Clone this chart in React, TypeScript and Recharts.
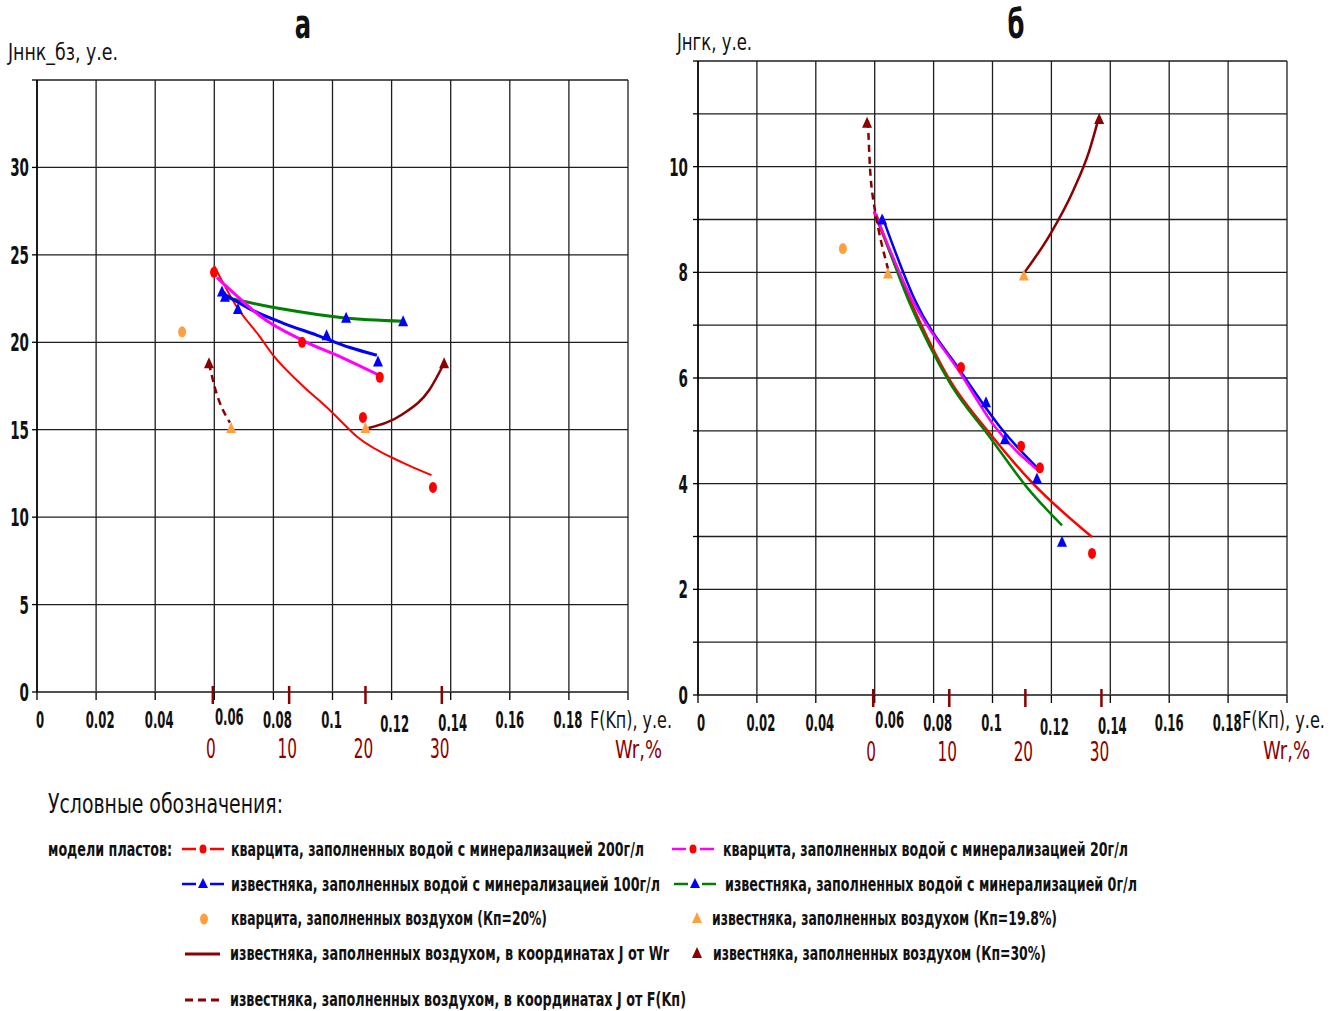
import React from "react";
import { ComposedChart, Line, Scatter, XAxis, YAxis, CartesianGrid } from "recharts";

const FONT = "'Liberation Sans Narrow','DejaVu Sans Condensed','Arial Narrow',sans-serif";
const DARK_RED = "#8b0000";
const ORANGE = "#ffa040";

type Pt = { x: number; y: number };
const pts = (a: number[][]): Pt[] => a.map(([x, y]) => ({ x, y }));

// axes
const fTicks = [0, 0.02, 0.04, 0.06, 0.08, 0.1, 0.12, 0.14, 0.16, 0.18, 0.2];
const wrTicks = [0, 10, 20, 30];
const wrDomain = [-23.03, 54.39];
const aYTicks = [0, 5, 10, 15, 20, 25, 30, 35];
const bYTicks = [0, 1, 2, 3, 4, 5, 6, 7, 8, 9, 10, 11, 12];

// panel а : Jннк_бз vs F(Kп)
const aRed200Line = pts([[0.0599, 24.4], [0.0677, 22.0], [0.0755, 20.3], [0.0799, 19.26], [0.089, 17.66], [0.0992, 16.1], [0.1083, 14.6], [0.1239, 13.1], [0.1335, 12.4]]);
const aRed200Pts = pts([[0.0599, 24.0], [0.1103, 15.7], [0.134, 11.7]]);
const aPink20Line = pts([[0.0609, 23.7], [0.068, 22.6], [0.0755, 21.5], [0.09, 20.1], [0.1036, 19.1], [0.116, 18.1]]);
const aPink20Pts = pts([[0.0897, 20.0], [0.116, 18.0]]);
const aBlue100Line = pts([[0.0629, 22.8], [0.0721, 21.9], [0.0832, 21.1], [0.0948, 20.4], [0.1059, 19.7], [0.115, 19.26]]);
const aBlue100Pts = pts([[0.0626, 22.9], [0.068, 21.9], [0.098, 20.4], [0.1154, 18.9]]);
const aGreen0Line = pts([[0.0626, 22.6], [0.0832, 21.9], [0.1036, 21.4], [0.1239, 21.2]]);
const aGreen0Pts = pts([[0.0636, 22.6], [0.1046, 21.4], [0.1239, 21.2]]);
const aQuartzAir = pts([[0.0491, 20.6]]);
const aLimeAirF = pts([[0.0657, 15.1]]);
const aLimeAirWr = pts([[20, 15.1]]);
const aLime30F = pts([[0.0582, 18.8]]);
const aLime30Wr = pts([[30.3, 18.8]]);
const aDashF = pts([[0.0582, 18.8], [0.0602, 17.4], [0.0653, 15.4]]);
const aSolidWr = pts([[20.4, 15.1], [24.9, 15.9], [28.4, 17.3], [30.3, 18.8]]);

// panel б : Jнгк vs F(Kп)
const bRed200Line = pts([[0.0597, 9.15], [0.072, 7.47], [0.0856, 5.95], [0.0991, 4.95], [0.1138, 4.0], [0.1338, 2.99]]);
const bRed200Pts = pts([[0.1097, 4.71], [0.1338, 2.68]]);
const bPink20Line = pts([[0.06, 9.15], [0.0725, 7.5], [0.089, 6.1], [0.1005, 5.1], [0.1161, 4.22]]);
const bPink20Pts = pts([[0.0893, 6.2], [0.1161, 4.3]]);
const bBlue100Line = pts([[0.0625, 9.07], [0.0737, 7.47], [0.0895, 6.1], [0.1036, 5.0], [0.1161, 4.25]]);
const bBlue100Pts = pts([[0.0625, 9.0], [0.0978, 5.54], [0.1151, 4.1]]);
const bGreen0Line = pts([[0.0605, 9.1], [0.072, 7.4], [0.0856, 5.9], [0.0991, 4.88], [0.1117, 3.93], [0.1236, 3.21]]);
const bGreen0Pts = pts([[0.1042, 4.84], [0.1236, 2.9]]);
const bQuartzAir = pts([[0.0492, 8.45]]);
const bLimeAirF = pts([[0.0645, 7.98]]);
const bLimeAirWr = pts([[19.8, 7.94]]);
const bLime30F = pts([[0.0574, 10.83]]);
const bLime30Wr = pts([[29.7, 10.9]]);
const bDashF = pts([[0.0577, 10.87], [0.0584, 9.98], [0.0594, 9.41], [0.0601, 9.17], [0.0645, 8.07]]);
const bSolidWr = pts([[19.8, 7.98], [23.3, 8.73], [26.3, 9.55], [28.4, 10.3], [29.6, 10.9]]);

// tall, narrow text like the scanned original
function TText({ x, y, size, ky = 1.3, len, anchor = "start", fill = "#111", weight = "normal", children }: any) {
  return (
    <text transform={`translate(${x},${y}) scale(1,${ky})`} fontSize={size} fontFamily={FONT}
      textAnchor={anchor} fill={fill} fontWeight={weight}
      textLength={len} lengthAdjust={len ? "spacingAndGlyphs" : undefined}>{children}</text>
  );
}

const fTickShift: Record<string, number[]> = {
  "0": [3, 0], "0.02": [4, 0], "0.04": [4, 0], "0.06": [15, -3], "0.08": [4, 0],
  "0.1": [-1, 0], "0.12": [3, 4], "0.14": [2, 3], "0.18": [-1, 0],
};

function FTick({ x, y, payload }: any) {
  const v = payload.value;
  if (v > 0.199) return <g />;
  const label = String(Number(v.toFixed(2)));
  const [dx, dy] = fTickShift[label] || [0, 0];
  return <TText x={x + dx} y={y + 26 + dy} size={13} ky={1.7} anchor="middle" weight="bold">{label}</TText>;
}

function WrTick({ x, y, payload }: any) {
  return (
    <g>
      <line x1={x} x2={x} y1={y - 36} y2={y - 18} stroke={DARK_RED} strokeWidth={2.5} />
      <TText x={x - 2} y={y + 36} size={17} ky={1.6} anchor="middle" fill={DARK_RED}>{payload.value}</TText>
    </g>
  );
}

function YTick({ x, y, payload, show }: any) {
  if (!show(payload.value)) return <g />;
  return <TText x={x} y={y + 9} size={15} ky={1.6} anchor="end" weight="bold">{payload.value}</TText>;
}

const ellipse = (fill: string) => (p: any) => <ellipse cx={p.cx} cy={p.cy} rx={4} ry={5.5} fill={fill} />;
const tri = (fill: string) => (p: any) => (
  <polygon points={`${p.cx},${p.cy - 6} ${p.cx - 5},${p.cy + 5} ${p.cx + 5},${p.cy + 5}`} fill={fill} />
);

function Panel({ cfg }: any) {
  const lw = cfg.lw;
  return (
    <ComposedChart width={cfg.w} height={780} margin={cfg.margin}>
      <CartesianGrid stroke="#1e1e1e" strokeWidth={1.3} />
      <XAxis type="number" dataKey="x" domain={[0, 0.2]} ticks={fTicks} interval={0} height={30}
        tickSize={8} tickMargin={2} axisLine={{ stroke: "#505050", strokeWidth: 2 }}
        tickLine={{ stroke: "#000", strokeWidth: 1.3 }} tick={(p: any) => <FTick {...p} />} allowDataOverflow />
      <XAxis xAxisId="wr" type="number" dataKey="x" domain={wrDomain} ticks={wrTicks} interval={0}
        height={50} tickSize={0} tickMargin={0} axisLine={false} tickLine={false}
        tick={(p: any) => <WrTick {...p} />} allowDataOverflow />
      <YAxis type="number" dataKey="y" domain={cfg.yDomain} ticks={cfg.yTicks} interval={0} width={30}
        tickSize={cfg.yTickSize} tickMargin={cfg.yTickMargin} axisLine={{ stroke: "#000", strokeWidth: 1.5 }}
        tickLine={{ stroke: "#000", strokeWidth: 1.3 }}
        tick={(p: any) => <YTick {...p} show={cfg.yShow} />} allowDataOverflow />

      <Line data={cfg.red} dataKey="y" type="monotone" stroke="#ff0000" strokeWidth={lw[0]} dot={false} isAnimationActive={false} />
      <Line data={cfg.green} dataKey="y" type="monotone" stroke="#008000" strokeWidth={lw[1]} dot={false} isAnimationActive={false} />
      <Line data={cfg.blue} dataKey="y" type="monotone" stroke="#0000ff" strokeWidth={lw[1]} dot={false} isAnimationActive={false} />
      <Line data={cfg.pink} dataKey="y" type="monotone" stroke="#ff00ff" strokeWidth={lw[1]} dot={false} isAnimationActive={false} />
      <Line data={cfg.dash} dataKey="y" type="monotone" stroke={DARK_RED} strokeWidth={2.5} strokeDasharray="7 5" dot={false} isAnimationActive={false} />
      <Line data={cfg.solid} xAxisId="wr" dataKey="y" type="monotone" stroke={DARK_RED} strokeWidth={2.5} dot={false} isAnimationActive={false} />

      <Scatter data={cfg.redPts} dataKey="y" shape={ellipse("#ff0000")} isAnimationActive={false} />
      <Scatter data={cfg.pinkPts} dataKey="y" shape={ellipse("#ff0000")} isAnimationActive={false} />
      <Scatter data={cfg.bluePts} dataKey="y" shape={tri("#0000ff")} isAnimationActive={false} />
      <Scatter data={cfg.greenPts} dataKey="y" shape={tri("#0000ff")} isAnimationActive={false} />
      <Scatter data={cfg.quartzAir} dataKey="y" shape={ellipse(ORANGE)} isAnimationActive={false} />
      <Scatter data={cfg.limeAirF} dataKey="y" shape={tri(ORANGE)} isAnimationActive={false} />
      <Scatter data={cfg.limeAirWr} xAxisId="wr" dataKey="y" shape={tri(ORANGE)} isAnimationActive={false} />
      <Scatter data={cfg.lime30F} dataKey="y" shape={tri(DARK_RED)} isAnimationActive={false} />
      <Scatter data={cfg.lime30Wr} xAxisId="wr" dataKey="y" shape={tri(DARK_RED)} isAnimationActive={false} />
    </ComposedChart>
  );
}

const panelA = {
  w: 680, margin: { top: 80, right: 52, left: 7, bottom: 8 }, lw: [2, 3],
  yDomain: [0, 35], yTicks: aYTicks, yShow: (v: number) => v <= 30, yTickSize: 5, yTickMargin: 3,
  red: aRed200Line, redPts: aRed200Pts, pink: aPink20Line, pinkPts: aPink20Pts,
  blue: aBlue100Line, bluePts: aBlue100Pts, green: aGreen0Line, greenPts: aGreen0Pts,
  quartzAir: aQuartzAir, limeAirF: aLimeAirF, limeAirWr: aLimeAirWr, lime30F: aLime30F, lime30Wr: aLime30Wr,
  dash: aDashF, solid: aSolidWr,
};

const panelB = {
  w: 681, margin: { top: 61, right: 54, left: 8, bottom: 5 }, lw: [2.5, 2.5],
  yDomain: [0, 12], yTicks: bYTicks, yShow: (v: number) => v % 2 === 0 && v <= 10, yTickSize: 5, yTickMargin: 5,
  red: bRed200Line, redPts: bRed200Pts, pink: bPink20Line, pinkPts: bPink20Pts,
  blue: bBlue100Line, bluePts: bBlue100Pts, green: bGreen0Line, greenPts: bGreen0Pts,
  quartzAir: bQuartzAir, limeAirF: bLimeAirF, limeAirWr: bLimeAirWr, lime30F: bLime30F, lime30Wr: bLime30Wr,
  dash: bDashF, solid: bSolidWr,
};

function Overlay() {
  const seg = (x1: number, x2: number, y: number, c: string) => (
    <g stroke={c} strokeWidth={2.5}>
      <line x1={x1} x2={x1 + 14} y1={y} y2={y} />
      <line x1={x2 - 14} x2={x2} y1={y} y2={y} />
    </g>
  );
  const row = { size: 15, ky: 1.35, weight: "bold" };
  return (
    <svg width={1341} height={1011} style={{ position: "absolute", left: 0, top: 0, pointerEvents: "none" }}>
      <TText x={303} y={38} size={27} ky={1.5} anchor="middle" weight="bold">а</TText>
      <TText x={1016} y={38} size={27} ky={1.5} anchor="middle" weight="bold">б</TText>
      <TText x={8} y={60} len={110} size={16} ky={1.4}>Jннк_бз, у.е.</TText>
      <TText x={677} y={50} len={75} size={16} ky={1.4}>Jнгк, у.е.</TText>

      <TText x={590} y={728} len={82} size={15} ky={1.5}>F(Kп), у.е.</TText>
      <TText x={615} y={758} len={47} size={19} ky={1.3} fill={DARK_RED}>Wr,%</TText>
      <TText x={1242} y={728} len={83} size={15} ky={1.5}>F(Kп), у.е.</TText>
      <TText x={1263} y={759} len={47} size={19} ky={1.3} fill={DARK_RED}>Wr,%</TText>

      <TText x={48} y={813} len={235} size={21} ky={1.3}>Условные обозначения:</TText>

      <TText x={48} y={856} len={124} {...row}>модели пластов:</TText>
      {seg(182, 224, 849, "#ff0000")}
      <ellipse cx={203} cy={849} rx={3.5} ry={4.5} fill="#ff0000" />
      <TText x={231} y={856} len={413} {...row}>кварцита, заполненных водой с минерализацией 200г/л</TText>
      {seg(672, 714, 849, "#ff00ff")}
      <ellipse cx={693} cy={849} rx={3.5} ry={4.5} fill="#ff0000" />
      <TText x={723} y={856} len={405} {...row}>кварцита, заполненных водой с минерализацией 20г/л</TText>

      {seg(182, 224, 884, "#0000ff")}
      <polygon points="203,878 198,888 208,888" fill="#0000ff" />
      <TText x={231} y={891} len={429} {...row}>известняка, заполненных водой с минерализацией 100г/л</TText>
      {seg(674, 716, 884, "#008000")}
      <polygon points="695,878 690,888 700,888" fill="#0000ff" />
      <TText x={725} y={891} len={412} {...row}>известняка, заполненных водой с минерализацией 0г/л</TText>

      <ellipse cx={204} cy={919} rx={4} ry={5.5} fill={ORANGE} />
      <TText x={231} y={925} len={316} {...row}>кварцита, заполненных воздухом (Кп=20%)</TText>
      <polygon points="697,912 692,923 702,923" fill={ORANGE} />
      <TText x={712} y={925} len={345} {...row}>известняка, заполненных воздухом (Кп=19.8%)</TText>

      <line x1={185} x2={220} y1={954} y2={954} stroke={DARK_RED} strokeWidth={3} />
      <TText x={230} y={960} len={439} {...row}>известняка, заполненных воздухом, в координатах J от Wr</TText>
      <polygon points="697,947 692,958 702,958" fill={DARK_RED} />
      <TText x={713} y={960} len={333} {...row}>известняка, заполненных воздухом (Кп=30%)</TText>

      <line x1={185} x2={222} y1={1000} y2={1000} stroke={DARK_RED} strokeWidth={3} strokeDasharray="8 5" />
      <TText x={230} y={1006} len={456} {...row}>известняка, заполненных воздухом, в координатах J от F(Kп)</TText>
    </svg>
  );
}

export default function App() {
  return (
    <div style={{ position: "absolute", left: 0, top: 0, width: 1341, height: 1011, background: "#fff", overflow: "hidden" }}>
      <div style={{ position: "absolute", left: 0, top: 0 }}>
        <Panel cfg={panelA} />
      </div>
      <div style={{ position: "absolute", left: 660, top: 0 }}>
        <Panel cfg={panelB} />
      </div>
      <Overlay />
    </div>
  );
}
